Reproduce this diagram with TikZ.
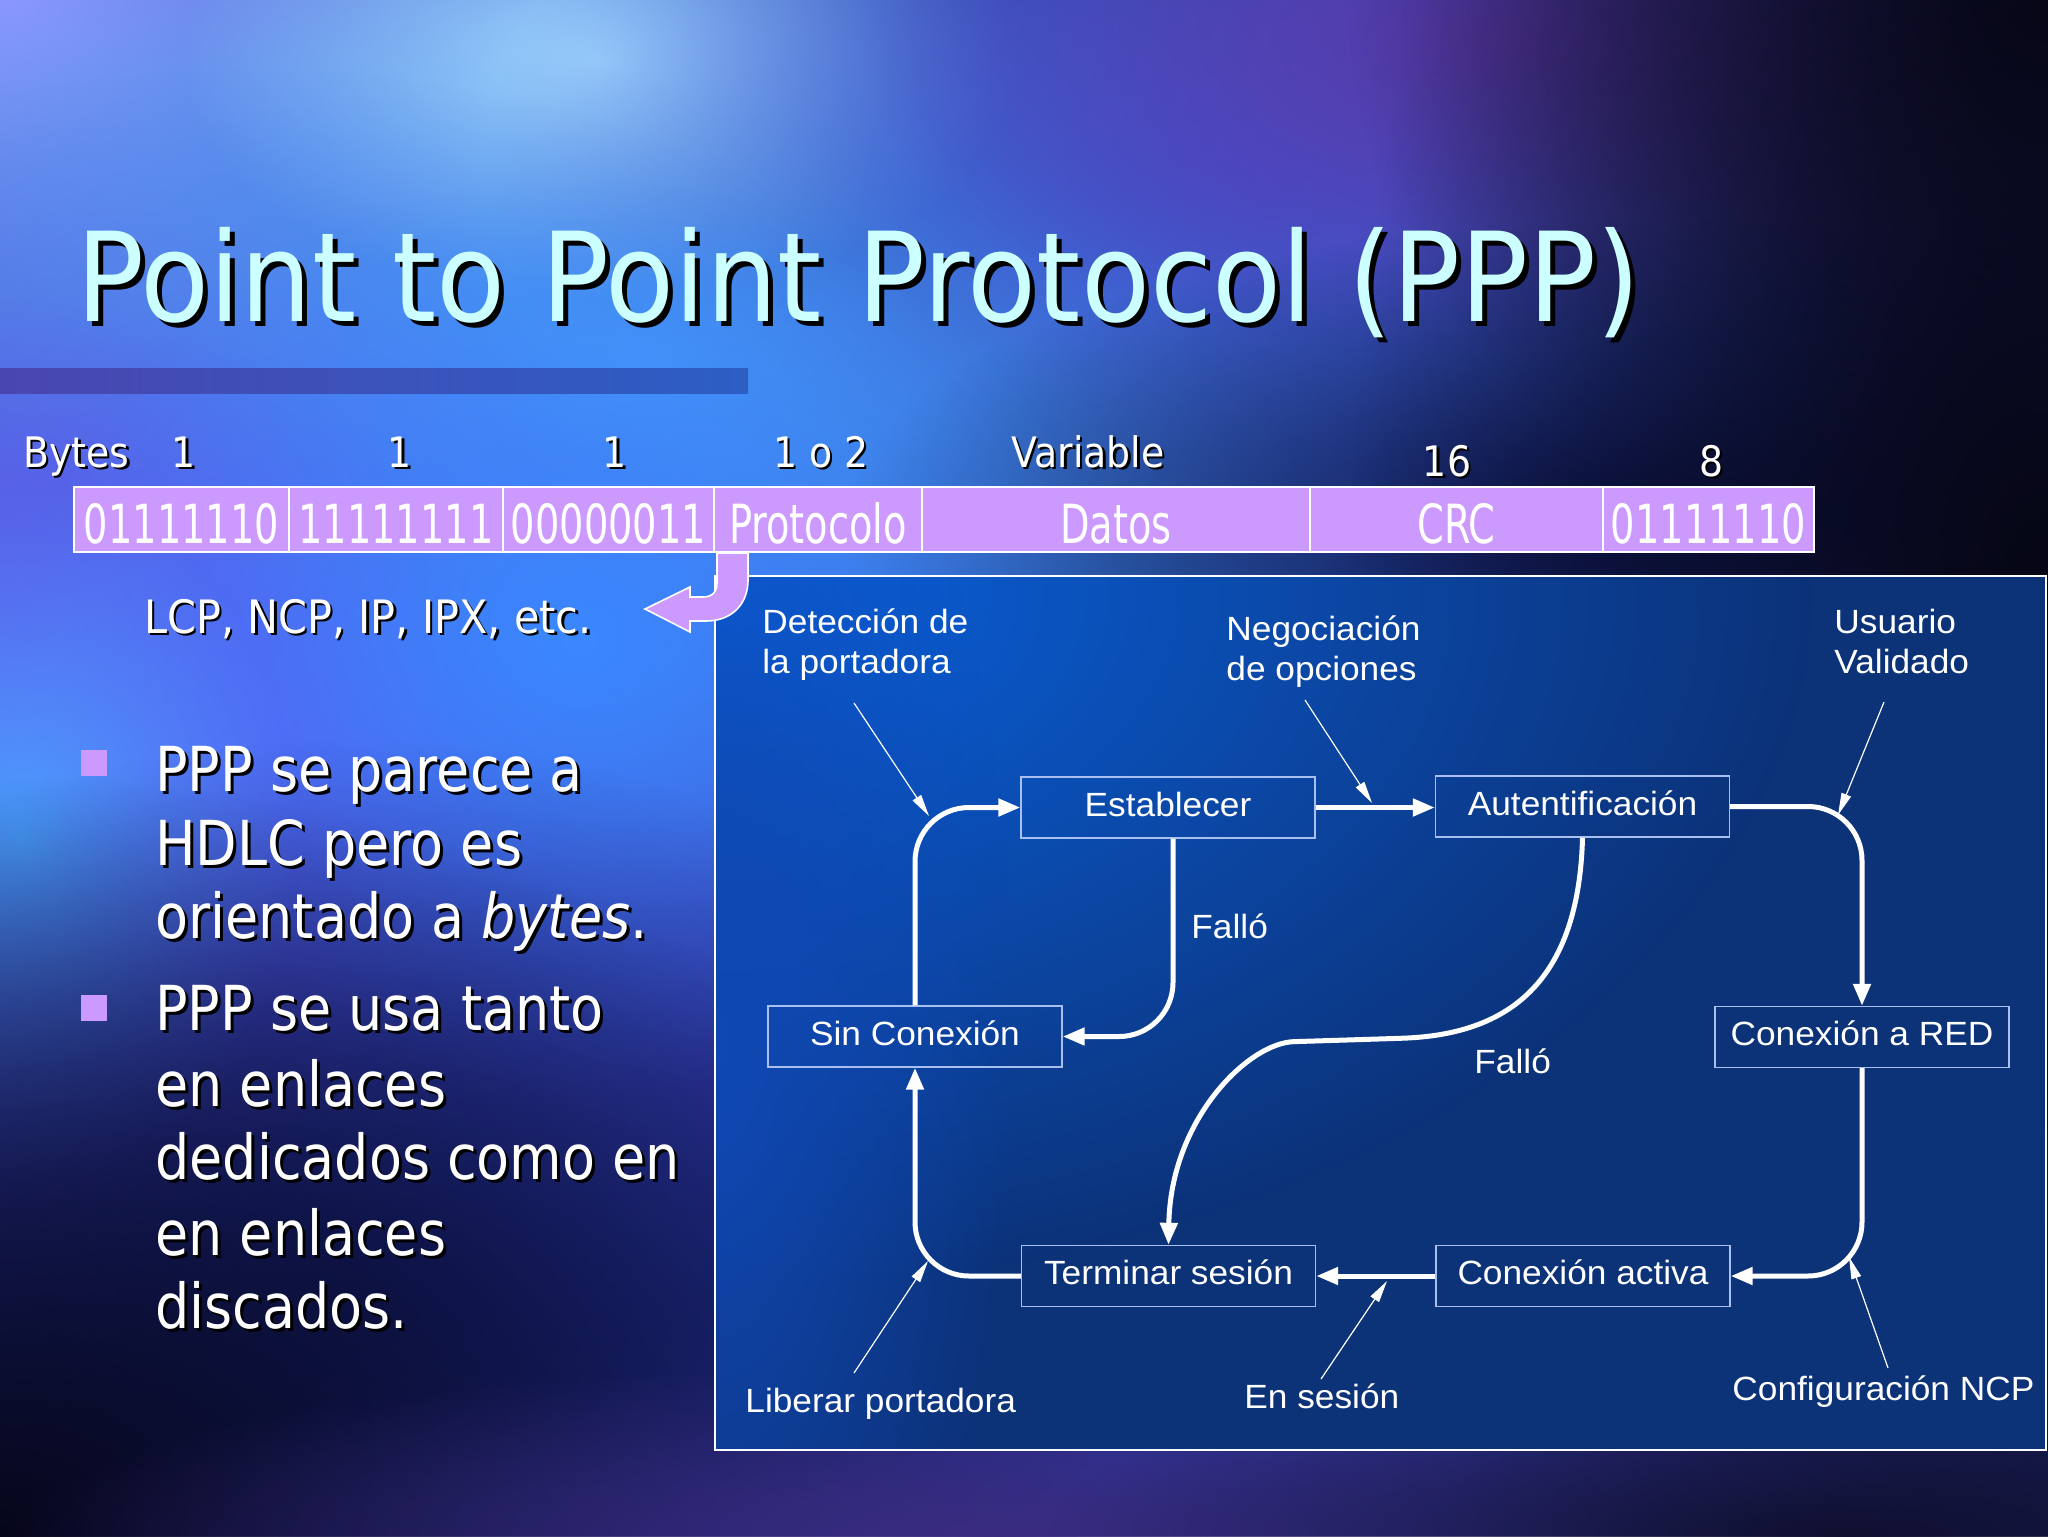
\documentclass[tikz,border=0pt]{standalone}
\usepackage{fontspec}
\usetikzlibrary{arrows.meta,fadings}
\newfontfamily\titlefont[FakeStretch=0.91]{DejaVu Sans}
\newfontfamily\slidefont[FakeStretch=0.87]{DejaVu Sans}
\newfontfamily\rowfont[FakeStretch=0.9]{DejaVu Sans}
\newfontfamily\framefont[FakeStretch=0.71]{DejaVu Sans}
\newfontfamily\diagfont[FakeStretch=1.05]{Liberation Sans}
\definecolor{lav}{HTML}{CC99FF}
\definecolor{titlecol}{HTML}{CCFFFF}
\definecolor{panelbase}{HTML}{0C3278}
\definecolor{boxline}{HTML}{A9BFEF}
\definecolor{bgbase}{HTML}{2A3498}
\definecolor{bgA}{HTML}{9A92FF}
\definecolor{bgB}{HTML}{A0D6FF}
\definecolor{bgC}{HTML}{40B8FF}
\definecolor{bgD}{HTML}{4450D0}
\definecolor{bgE}{HTML}{5A3AA8}
\definecolor{bgF}{HTML}{05050F}
\definecolor{bgG}{HTML}{0C1248}
\definecolor{bgH}{HTML}{5A5CF0}
\definecolor{bgI}{HTML}{4AA0FF}
\definecolor{bgJ}{HTML}{3A88FF}
\definecolor{bgK}{HTML}{06061A}
\definecolor{bgL}{HTML}{142070}
\definecolor{bgM}{HTML}{3A2C80}
\definecolor{bgN}{HTML}{101030}
\definecolor{bgO}{HTML}{0A0A22}
\definecolor{bgP}{HTML}{6458F0}
\definecolor{barL}{HTML}{4A46B0}
\definecolor{barR}{HTML}{2C5EC4}
\definecolor{panA}{HTML}{0A62DE}
\definecolor{panB}{HTML}{1048B4}
\tikzfading[name=blob, inner color=transparent!0, outer color=transparent!100]
\newcommand\shd[2]{{\rlap{\kern#1\raisebox{-#1}{\color{black}#2}}#2}}
\newcommand\blob[4]{\fill[#1, path fading=blob] (#2) ellipse (#3 and #4);}
\tikzset{
  stbox/.style={draw=boxline, line width=0.7pt, text=white, minimum width=147pt,
    minimum height=30.5pt, inner sep=0pt, text height=12pt, text depth=3.5pt,
    font=\diagfont\fontsize{16.8}{20}\selectfont},
  dlabel/.style={text=white, inner sep=0pt, anchor=base west,
    font=\diagfont\fontsize{16.8}{20}\selectfont},
  flow/.style={draw=white, line width=2.5pt, rounded corners=27pt,
    -{Triangle[length=11pt,width=8.5pt]}},
  pointer/.style={draw=white, line width=0.6pt, -{Triangle[length=11pt,width=5pt]}},
  cell/.style={draw=white, line width=0.8pt, fill=lav, text=white, minimum height=32.5pt,
    inner sep=0pt, text height=23.5pt, text depth=0pt,
    font=\framefont\fontsize{27}{30}\selectfont},
  rowlab/.style={text=white, inner sep=0pt, anchor=base, font=\rowfont\fontsize{21}{24}\selectfont},
  bline/.style={text=white, inner sep=0pt, anchor=base west, font=\slidefont\fontsize{31}{37}\selectfont},
  bsq/.style={fill=lav, minimum size=13pt, inner sep=0pt},
}
\begin{document}
\begin{tikzpicture}[x=0.5pt,y=-0.5pt]
\useasboundingbox (0,0) rectangle (2048,1536);
% background
\begin{scope}
\clip (0,0) rectangle (2048,1536);
\fill[bgbase] (0,0) rectangle (2048,1536);
\blob{bgA}{0,0}{900}{650}
\blob{bgC}{650,360}{1200}{560}
\blob{bgB}{600,60}{420}{240}
\blob{bgD}{1250,160}{760}{420}
\blob{bgE}{1500,40}{640}{320}
\blob{bgO}{2048,0}{700}{600}
\blob{bgH}{250,720}{900}{650}
\blob{bgP}{0,760}{520}{460}
\blob{bgJ}{580,640}{560}{460}
\blob{bgI}{20,840}{280}{360}
\blob{bgL}{350,1300}{800}{560}
\blob{bgK}{0,1536}{1100}{760}
\blob{bgG}{1650,520}{800}{300}
\blob{bgF}{2048,650}{700}{1500}
\blob{bgM}{1000,1536}{1000}{180}
\blob{bgN}{1850,1536}{800}{180}
\end{scope}
% title
\shade[left color=barL, right color=barR] (0,368) rectangle (748,393);
\node[anchor=base west, inner sep=0pt, text=titlecol, font=\titlefont\fontsize{62}{70}\selectfont]
  (title) at (76,321) {\shd{2.5pt}{Point to Point Protocol (PPP)}};
% byte counts
\node[rowlab, anchor=base west] (bytes) at (23,467) {\shd{1.2pt}{Bytes}};
\node[rowlab] (n1) at (184,467) {\shd{1.2pt}{1}};
\node[rowlab] (n2) at (400,467) {\shd{1.2pt}{1}};
\node[rowlab] (n3) at (615,467) {\shd{1.2pt}{1}};
\node[rowlab] (n4) at (821,467) {\shd{1.2pt}{1 o 2}};
\node[rowlab] (n5) at (1088,467) {\shd{1.2pt}{Variable}};
\node[rowlab] (n6) at (1447,476) {\shd{1.2pt}{16}};
\node[rowlab] (n7) at (1711,476) {\shd{1.2pt}{8}};
% frame
\node[cell, minimum width=107.5pt] (c1) at (181.5,519.5) {01111110};
\node[cell, minimum width=107pt] (c2) at (396,519.5) {11111111};
\node[cell, minimum width=105.5pt] (c3) at (608.5,519.5) {00000011};
\node[cell, minimum width=104pt] (c4) at (818,519.5) {Protocolo};
\node[cell, minimum width=194pt] (c5) at (1116,519.5) {Datos};
\node[cell, minimum width=146.5pt] (c6) at (1456.5,519.5) {CRC};
\node[cell, minimum width=105.5pt] (c7) at (1708.5,519.5) {01111110};
% bullets
\node[bsq] (sq1) at (94,763) {};
\node[bsq] (sq2) at (94,1008) {};
\node[bline] (l1) at (155,791) {\shd{1.5pt}{PPP se parece a}};
\node[bline] (l2) at (155,865) {\shd{1.5pt}{HDLC pero es}};
\node[bline] (l3) at (155,938) {\shd{1.5pt}{orientado a \textit{bytes}.}};
\node[bline] (l4) at (155,1030) {\shd{1.5pt}{PPP se usa tanto}};
\node[bline] (l5) at (155,1106) {\shd{1.5pt}{en enlaces}};
\node[bline] (l6) at (155,1179) {\shd{1.5pt}{dedicados como en}};
\node[bline] (l7) at (155,1255) {\shd{1.5pt}{en enlaces}};
\node[bline] (l8) at (155,1328) {\shd{1.5pt}{discados.}};
% panel
\begin{scope}
\clip (715,576) rectangle (2046,1450);
\fill[panelbase] (715,576) rectangle (2046,1450);
\blob{panA}{716,590}{1100}{700}
\blob{panB}{716,1050}{300}{800}
\end{scope}
\draw[white, line width=0.9pt] (715,576) rectangle (2046,1450);
% protocol hook
\node[rowlab, anchor=base west, font=\rowfont\fontsize{23}{26}\selectfont] (lcp) at (144,633) {\shd{1.2pt}{LCP, NCP, IP, IPX, etc.}};
\fill[lav, draw=white, line width=0.8pt] (717,553) -- (717,583) .. controls (717,592) and (712,597) .. (703,597)
  -- (690,597) -- (690,587) -- (645,609) -- (690,632) -- (690,621) -- (706,621)
  .. controls (732,621) and (748,604) .. (748,580) -- (748,553) -- cycle;
% states
\node[stbox] (est) at (1168,807.5) {Establecer};
\node[stbox] (aut) at (1582.5,806.5) {Autentificación};
\node[stbox] (sin) at (915,1036.5) {Sin Conexión};
\node[stbox] (red) at (1862,1037) {Conexión a RED};
\node[stbox] (ter) at (1168.5,1276) {Terminar sesión};
\node[stbox] (act) at (1583,1276) {Conexión activa};
% labels
\node[dlabel] (det1) at (762,633) {Detección de};
\node[dlabel] (det2) at (762,673) {la portadora};
\node[dlabel] (neg1) at (1226,640) {Negociación};
\node[dlabel] (neg2) at (1226,680) {de opciones};
\node[dlabel] (usu1) at (1834,633) {Usuario};
\node[dlabel] (usu2) at (1834,673) {Validado};
\node[dlabel] (f1) at (1191,938) {Falló};
\node[dlabel] (f2) at (1474,1073) {Falló};
\node[dlabel] (lib) at (745,1412) {Liberar portadora};
\node[dlabel] (ens) at (1244,1408) {En sesión};
\node[dlabel] (ncp) at (1732,1400) {Configuración NCP};
% flow connectors
\coordinate (sm) at (1348,1040);
\draw[flow] (sin.north) |- (est.west);
\draw[flow] (est.east) -- (est.east -| aut.west);
\draw[flow] ([xshift=2.5pt]est.south) |- (sin.east);
\draw[flow] (aut.east) -| (red.north);
\draw[flow] (red.south) |- (act.east);
\draw[flow] (act.west) -- (ter.east);
\draw[flow] (ter.west) -| (sin.south);
\draw[flow] (aut.south) .. controls +(-4,153) and +(152,-5) .. (sm)
  .. controls +(-100,3) and +(2,-125) .. (ter.north);
% pointers
\coordinate (p1s) at (854,703); \coordinate (p1e) at (929,816);
\coordinate (p2s) at (1305,700); \coordinate (p2e) at (1372,803);
\coordinate (p3s) at (1884,702); \coordinate (p3e) at (1838,815);
\coordinate (p4s) at (854,1373); \coordinate (p4e) at (928,1261);
\coordinate (p5s) at (1321,1379); \coordinate (p5e) at (1387,1281);
\coordinate (p6s) at (1888,1368); \coordinate (p6e) at (1849,1257);
\draw[pointer] (p1s) -- (p1e);
\draw[pointer] (p2s) -- (p2e);
\draw[pointer] (p3s) -- (p3e);
\draw[pointer] (p4s) -- (p4e);
\draw[pointer] (p5s) -- (p5e);
\draw[pointer] (p6s) -- (p6e);
\end{tikzpicture}
\end{document}
